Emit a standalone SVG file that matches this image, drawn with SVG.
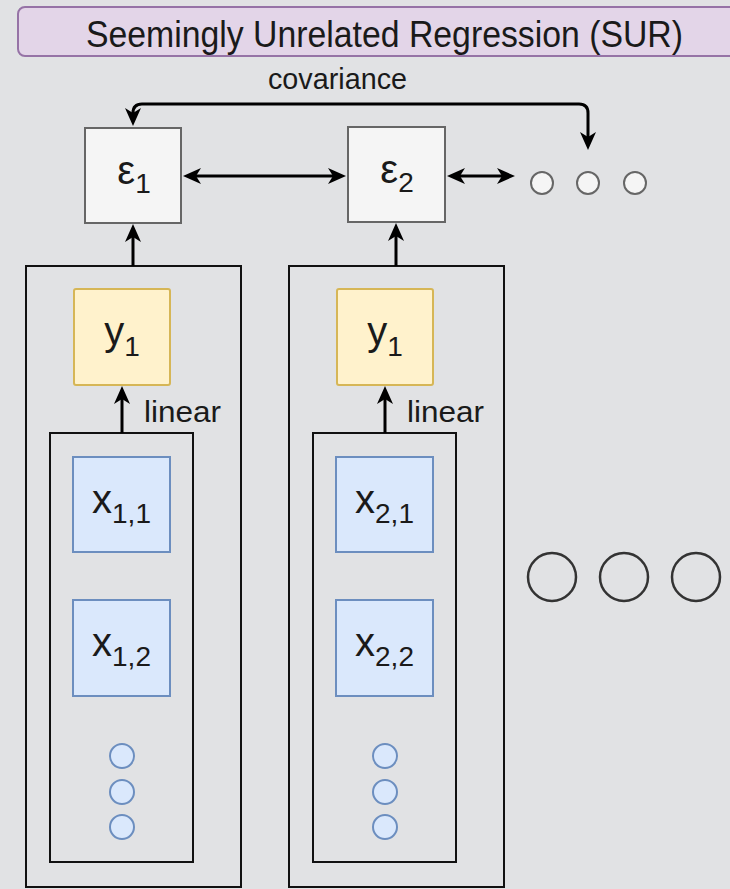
<svg xmlns="http://www.w3.org/2000/svg" width="730" height="889" viewBox="0 0 730 889">
  <style>
    text { font-family: "Liberation Sans", Arial, Helvetica, sans-serif; fill: #1a1a1a; }
    .lbl { font-size: 40px; text-anchor: middle; }
    .sub { font-size: 28px; }
    .small { font-size: 30px; }
    .err { fill: #f5f5f5; stroke: #666666; stroke-width: 2; }
    .resp { fill: #fff2cc; stroke: #d6b656; stroke-width: 2; }
    .pred { fill: #dae8fc; stroke: #6c8ebf; stroke-width: 2; }
    .frame { fill: none; stroke: #111111; stroke-width: 2; }
    .edge { fill: none; stroke: #000000; stroke-width: 3; }
    .dotg { fill: #f5f5f5; stroke: #666666; stroke-width: 2; }
    .dotb { fill: #dae8fc; stroke: #6c8ebf; stroke-width: 2; }
    .big { fill: none; stroke: #333333; stroke-width: 2.5; }
  </style>
  <defs>
    <marker id="arrow" viewBox="0 0 18 16" markerWidth="18" markerHeight="16" refX="5" refY="8" orient="auto-start-reverse" markerUnits="userSpaceOnUse">
      <path d="M0,0 L18,8 L0,16 L5,8 z" fill="#000000"/>
    </marker>
  </defs>

  <rect width="730" height="889" fill="#e1e2e4"/>

  <g id="title">
    <rect x="18" y="7" width="760" height="49" rx="7" fill="#e3d5e8" stroke="#9673a6" stroke-width="2"/>
    <text x="86" y="47" font-size="36" textLength="597" lengthAdjust="spacingAndGlyphs">Seemingly Unrelated Regression (SUR)</text>
  </g>

  <!-- equation 1 -->
  <g id="frame1">
    <rect class="frame" x="26" y="266" width="215" height="621"/>
    <rect class="frame" x="50" y="433" width="143" height="429"/>
  </g>
  <g id="eps1">
    <rect class="err" x="85" y="128" width="96" height="95"/>
    <text class="lbl" x="134" y="184">ε<tspan class="sub" dy="9">1</tspan></text>
  </g>
  <g id="y1a">
    <rect class="resp" x="74" y="289" width="96" height="96" rx="2"/>
    <text class="lbl" x="122" y="345">y<tspan class="sub" dy="11">1</tspan></text>
  </g>
  <g id="x11">
    <rect class="pred" x="73" y="457" width="97" height="95"/>
    <text class="lbl" x="121.5" y="513">x<tspan class="sub" dy="10">1,1</tspan></text>
  </g>
  <g id="x12">
    <rect class="pred" x="73" y="600" width="97" height="96"/>
    <text class="lbl" x="121.5" y="656">x<tspan class="sub" dy="10">1,2</tspan></text>
  </g>
  <g id="more1">
    <circle class="dotb" cx="122" cy="756" r="12"/>
    <circle class="dotb" cx="122" cy="792" r="12"/>
    <circle class="dotb" cx="122" cy="827" r="12"/>
  </g>

  <!-- equation 2 -->
  <g id="frame2">
    <rect class="frame" x="289" y="266" width="215" height="621"/>
    <rect class="frame" x="313" y="433" width="143" height="429"/>
  </g>
  <g id="eps2">
    <rect class="err" x="348" y="127" width="97" height="95"/>
    <text class="lbl" x="397" y="183">ε<tspan class="sub" dy="9">2</tspan></text>
  </g>
  <g id="y1b">
    <rect class="resp" x="337" y="289" width="96" height="96" rx="2"/>
    <text class="lbl" x="385" y="345">y<tspan class="sub" dy="11">1</tspan></text>
  </g>
  <g id="x21">
    <rect class="pred" x="336" y="457" width="97" height="95"/>
    <text class="lbl" x="384.5" y="513">x<tspan class="sub" dy="10">2,1</tspan></text>
  </g>
  <g id="x22">
    <rect class="pred" x="336" y="600" width="97" height="96"/>
    <text class="lbl" x="384.5" y="656">x<tspan class="sub" dy="10">2,2</tspan></text>
  </g>
  <g id="more2">
    <circle class="dotb" cx="385" cy="756" r="12"/>
    <circle class="dotb" cx="385" cy="792" r="12"/>
    <circle class="dotb" cx="385" cy="827" r="12"/>
  </g>

  <!-- further error terms and further equations -->
  <g id="moreEps">
    <circle class="dotg" cx="542" cy="183" r="11"/>
    <circle class="dotg" cx="588" cy="183" r="11"/>
    <circle class="dotg" cx="635" cy="183" r="11"/>
  </g>
  <g id="moreEq">
    <circle class="big" cx="552" cy="577" r="24"/>
    <circle class="big" cx="624" cy="577" r="24"/>
    <circle class="big" cx="696" cy="577" r="24"/>
  </g>

  <g id="connectors">
    <path class="edge" d="M133,113 Q133,104 142,104 H579 Q588,104 588,113 V137" marker-start="url(#arrow)" marker-end="url(#arrow)"/>
    <text class="small" x="268" y="89" textLength="139" lengthAdjust="spacingAndGlyphs">covariance</text>
    <path class="edge" d="M196,176 H333" marker-start="url(#arrow)" marker-end="url(#arrow)"/>
    <path class="edge" d="M460,176 H502" marker-start="url(#arrow)" marker-end="url(#arrow)"/>
    <path class="edge" d="M133,266 V237" marker-end="url(#arrow)"/>
    <path class="edge" d="M396,266 V236" marker-end="url(#arrow)"/>
    <path class="edge" d="M122,433 V399" marker-end="url(#arrow)"/>
    <path class="edge" d="M385,433 V399" marker-end="url(#arrow)"/>
    <text class="small" x="144" y="422" textLength="77" lengthAdjust="spacingAndGlyphs">linear</text>
    <text class="small" x="407" y="422" textLength="77" lengthAdjust="spacingAndGlyphs">linear</text>
  </g>
</svg>
